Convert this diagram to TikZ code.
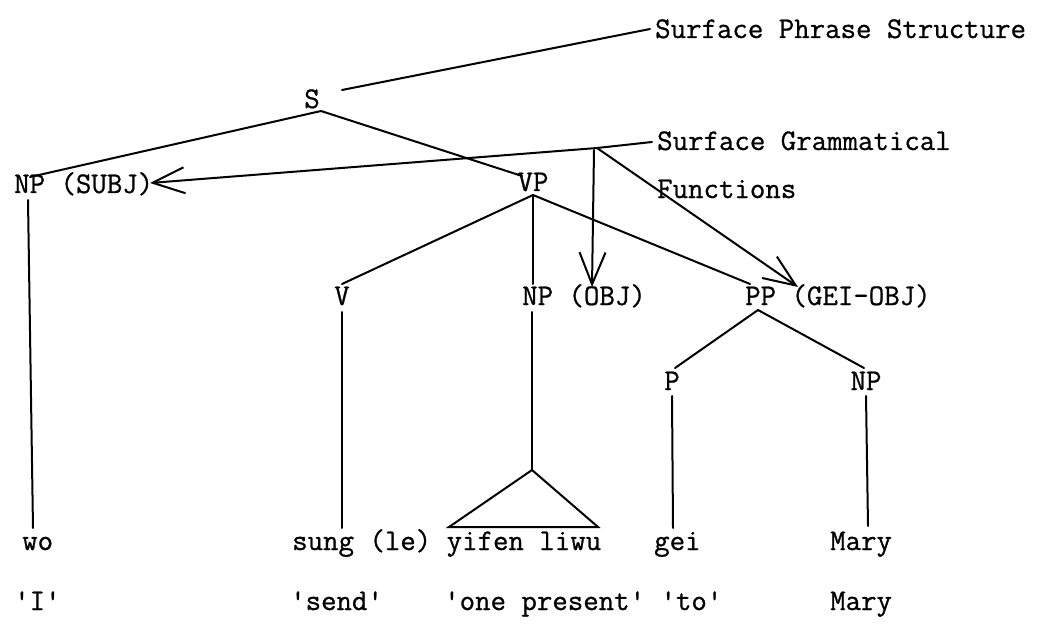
\documentclass[tikz,border=0pt]{standalone}
\usepackage{fontspec}
\newfontfamily\tw{Latin Modern Mono}[FakeBold=0.8]
\usetikzlibrary{arrows.meta}
\begin{document}
\begin{tikzpicture}[x=1pt,y=-1pt,
  lbl/.style={inner sep=0pt, font=\tw\fontsize{30}{34}\selectfont},
  edge/.style={line width=2pt, line cap=round},
  fn/.style={edge, -{Straight Barb[length=32pt,width=26pt,line width=2pt]}}]
\useasboundingbox (0,0) rectangle (1054,639);
\fill[white] (0,0) rectangle (1054,639);
% labels
\node[lbl,anchor=base west] (sps) at (655,38) {Surface Phrase Structure};
\node[lbl,anchor=base] (s) at (312,108) {S};
\node[lbl,anchor=base west] (sgf) at (657,150) {Surface Grammatical};
\node[lbl,anchor=base west] (fun) at (657,198) {Functions};
\node[lbl,anchor=base west] (npsubj) at (14,193) {NP (SUBJ)};
\node[lbl,anchor=base] (vp) at (533,191) {VP};
\node[lbl,anchor=base] (v) at (342,305) {V};
\node[lbl,anchor=base west] (npobj) at (522,305) {NP (OBJ)};
\node[lbl,anchor=base west] (pp) at (745,305) {PP (GEI-OBJ)};
\node[lbl,anchor=base] (p) at (672,390) {P};
\node[lbl,anchor=base] (np) at (866,390) {NP};
\node[lbl,anchor=base west] (wo) at (22,550) {wo};
\node[lbl,anchor=base west] (sung) at (292,550) {sung (le) yifen liwu};
\node[lbl,anchor=base west] (gei) at (654,550) {gei};
\node[lbl,anchor=base west] (mary) at (830,550) {Mary};
\node[lbl,anchor=base west] (gi) at (14,610) {'I'};
\node[lbl,anchor=base west] (gsend) at (290,610) {'send'};
\node[lbl,anchor=base west] (gone) at (444,610) {'one present' 'to'};
\node[lbl,anchor=base west] (gmary) at (830,610) {Mary};
% junction points
\coordinate (sj) at (321,111);
\coordinate (sr) at (342,90);
\coordinate (spsend) at (650,29);
\coordinate (subjtop) at (30,177);
\coordinate (vptop) at (522,176);
\coordinate (vpj) at (533,195);
\coordinate (vtop) at (342,284);
\coordinate (nptop) at (533,284);
\coordinate (pptop) at (750,284);
\coordinate (ppj) at (758,310);
\coordinate (ptop) at (675,368);
\coordinate (nptop2) at (864,368);
\coordinate (g) at (597,148);
\coordinate (gend) at (652,142);
\coordinate (tipsubj) at (150,183);
\coordinate (tipobj) at (592,287);
\coordinate (tipgei) at (798,287);
\coordinate (tri) at (532,470);
\coordinate (trl) at (449,527);
\coordinate (trr) at (598,527);
% tree
\draw[edge] (sr) -- (spsend);
\draw[edge] (sj) -- (subjtop);
\draw[edge] (sj) -- (vptop);
\draw[edge] (vpj) -- (vtop);
\draw[edge] (vpj) -- (nptop);
\draw[edge] (vpj) -- (pptop);
\draw[edge] (ppj) -- (ptop);
\draw[edge] (ppj) -- (nptop2);
\draw[edge] (28,200) -- (33,528);
\draw[edge] (342,312) -- (342,528);
\draw[edge] (532,312) -- (tri);
\draw[edge] (tri) -- (trl) -- (trr) -- cycle;
\draw[edge] (672,396) -- (673,528);
\draw[edge] (866,396) -- (868,526);
% grammatical functions
\draw[edge] (g) -- (gend);
\draw[fn] (g) -- (tipsubj);
\draw[fn] (594,150) -- (tipobj);
\draw[fn] (g) -- (tipgei);
\end{tikzpicture}
\end{document}
